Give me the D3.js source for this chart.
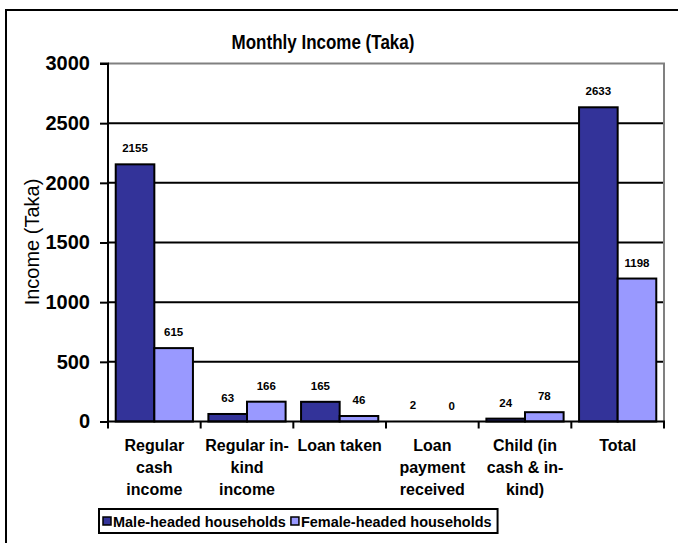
<!DOCTYPE html>
<html>
<head>
<meta charset="utf-8">
<script src="https://cdn.jsdelivr.net/npm/d3@7"></script>
<style>
  html, body { margin: 0; padding: 0; background: #fff; }
  svg { display: block; }
  text { font-family: Arial, "Liberation Sans", sans-serif; }
</style>
</head>
<body>
<script>
const categories = ["Regular cash income", "Regular in-kind income", "Loan taken", "Loan payment received", "Child (in cash & in-kind)", "Total"];
const categoryLines = [["Regular", "cash", "income"], ["Regular in-", "kind", "income"], ["Loan taken"], ["Loan", "payment", "received"], ["Child (in", "cash & in-", "kind)"], ["Total"]];
const seriesNames = ["Male-headed households", "Female-headed households"];
const maleValues = [2155, 63, 165, 2, 24, 2633];
const femaleValues = [615, 166, 46, 0, 78, 1198];
const yTicks = [0, 500, 1000, 1500, 2000, 2500, 3000];
const colors = ["#333399", "#9999FF"];

const W = 678, H = 543;
const svg = d3.select("body").append("svg").attr("width", W).attr("height", H);

// outer chart frame (extends past the viewport on right/bottom)
svg.append("rect").attr("x", 6).attr("y", 10).attr("width", 700).attr("height", 600)
  .attr("fill", "none").attr("stroke", "#000").attr("stroke-width", 2);

const plot = { left: 108, right: 664, top: 63.5, bottom: 421.5 };

const x0 = d3.scaleBand().domain(categories).range([plot.left, plot.right]).paddingInner(0).paddingOuter(0);
const x1 = d3.scaleBand().domain(seriesNames).range([0, x0.bandwidth()]).paddingInner(0).paddingOuter(0.2);
const y = d3.scaleLinear().domain([0, 3000]).range([plot.bottom, plot.top]);

// title
svg.append("text").attr("transform", "translate(323,49) scale(1,1.2)").attr("text-anchor", "middle")
  .attr("font-size", 17).attr("font-weight", "bold").text("Monthly Income (Taka)");

// gridlines
svg.append("g").selectAll("line").data(yTicks.filter(t => t > 0 && t < 3000)).join("line")
  .attr("x1", plot.left).attr("x2", plot.right)
  .attr("y1", d => y(d)).attr("y2", d => y(d))
  .attr("stroke", "#000").attr("stroke-width", 2);

// plot area border (grey top & right)
svg.append("path")
  .attr("d", `M${plot.left},${y(3000)}H${plot.right}V${plot.bottom}`)
  .attr("fill", "none").attr("stroke", "#808080").attr("stroke-width", 2);

// bars
const rows = categories.map((c, i) => ({ cat: c, vals: [maleValues[i], femaleValues[i]] }));
const groups = svg.append("g").selectAll("g").data(rows).join("g")
  .attr("transform", d => `translate(${x0(d.cat)},0)`);
groups.selectAll("rect").data(d => d.vals.map((v, j) => ({ s: seriesNames[j], v, j }))).join("rect")
  .attr("x", d => x1(d.s)).attr("width", x1.bandwidth())
  .attr("y", d => y(d.v)).attr("height", d => y(0) - y(d.v))
  .attr("fill", d => colors[d.j])
  .attr("stroke", d => d.v > 5 ? "#000" : "#ddd").attr("stroke-width", d => d.v > 5 ? 2 : 1);
groups.selectAll("text.val").data(d => d.vals.map((v, j) => ({ s: seriesNames[j], v, j }))).join("text")
  .attr("class", "val")
  .attr("x", d => x1(d.s) + x1.bandwidth() / 2).attr("y", d => y(d.v) - 12)
  .attr("text-anchor", "middle").attr("font-size", 11.5).attr("font-weight", "bold")
  .text(d => d.v);

// y axis
const yAxis = d3.axisLeft(y).tickValues(yTicks).tickSize(8).tickPadding(10).tickFormat(d3.format("d"));
const ya = svg.append("g").attr("transform", `translate(${plot.left},0)`).call(yAxis);
ya.select(".domain").attr("stroke", "#000").attr("stroke-width", 2).attr("d", `M-8,${plot.top}H0V${plot.bottom}`);
ya.selectAll(".tick line").attr("stroke", "#000").attr("stroke-width", 2);
ya.selectAll(".tick text").attr("font-size", 20).attr("font-weight", "bold").attr("fill", "#000")
  .attr("font-family", "Arial, 'Liberation Sans', sans-serif");

// x axis
const xa = svg.append("g").attr("transform", `translate(0,${plot.bottom})`);
xa.append("line").attr("x1", plot.left).attr("x2", plot.right + 1).attr("stroke", "#000").attr("stroke-width", 2);
const bounds = categories.map(c => x0(c)).concat([plot.right]);
xa.selectAll("line.tk").data(bounds).join("line").attr("class", "tk")
  .attr("x1", d => d).attr("x2", d => d).attr("y1", 0).attr("y2", 7)
  .attr("stroke", "#000").attr("stroke-width", 2);
const xl = svg.append("g").selectAll("text").data(categories).join("text")
  .attr("x", d => x0(d) + x0.bandwidth() / 2).attr("y", 451)
  .attr("text-anchor", "middle").attr("font-size", 16).attr("font-weight", "bold");
xl.selectAll("tspan").data((d, i) => categoryLines[i]).join("tspan")
  .attr("x", function() { return d3.select(this.parentNode).attr("x"); })
  .attr("dy", (d, i) => i === 0 ? 0 : 22).text(d => d);

// y axis title
svg.append("text").attr("transform", "translate(39,242) rotate(-90)")
  .attr("text-anchor", "middle").attr("font-size", 20).text("Income (Taka)");

// legend
const lg = svg.append("g");
const box = lg.append("rect").attr("x", 99).attr("y", 509).attr("height", 24)
  .attr("fill", "#fff").attr("stroke", "#000").attr("stroke-width", 2);
let cx = 103;
seriesNames.forEach((s, i) => {
  lg.append("rect").attr("x", cx).attr("y", 517).attr("width", 8).attr("height", 8)
    .attr("fill", colors[i]).attr("stroke", "#000").attr("stroke-width", 1.5);
  const t = lg.append("text").attr("x", cx + 10).attr("y", 526.5).attr("font-size", 15)
    .attr("font-weight", "bold").attr("textLength", null).text(s);
  const len = t.node().getComputedTextLength() * 0.965;
  t.attr("textLength", len).attr("lengthAdjust", "spacingAndGlyphs");
  cx = cx + 10 + len + 5;
});
box.attr("width", cx - 99 + 1);
</script>
</body>
</html>
